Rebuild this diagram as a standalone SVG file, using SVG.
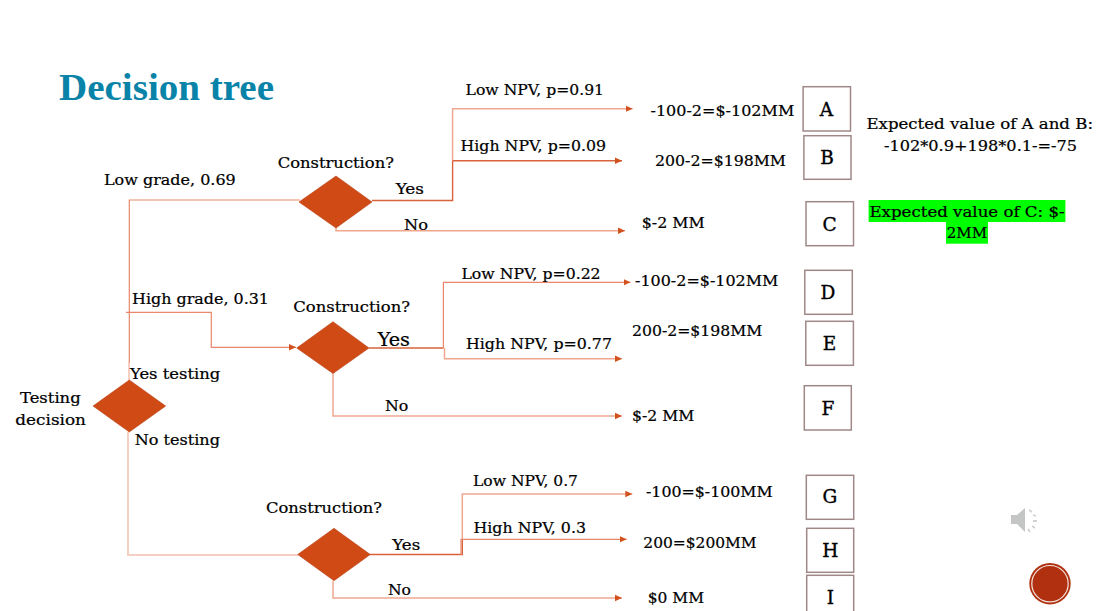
<svg xmlns="http://www.w3.org/2000/svg" width="1096" height="611" viewBox="0 0 1096 611">
<style>
text{font-family:"DejaVu Serif","Liberation Serif",serif;font-size:15px;fill:#000;stroke:#000;stroke-width:.22px;transform:translateY(-.8px)}
.title{font-family:"Liberation Serif",serif;font-weight:bold;font-size:38px;fill:#0a83a8;stroke:none;transform:none}
.big{font-size:18px}
.letter{font-size:18.500px;text-anchor:middle;stroke-width:.35px}
.c{fill:none;stroke:#e8876a;stroke-width:1.2}
.d{fill:none;stroke:#d9623a;stroke-width:1.4}
.l{fill:none;stroke:#f5cfc2;stroke-width:2}
.m{fill:none;stroke:#f1a78e;stroke-width:1.5}
.dia{fill:#d04a16;stroke:#b8431a;stroke-width:.6}
.box{fill:#fff;stroke:#a08888;stroke-width:1.5}
</style>
<defs>
<marker id="arrow" markerUnits="userSpaceOnUse" markerWidth="8" markerHeight="8" refX="7" refY="4" orient="auto"><path d="M0 .8L7 4L0 7.2Z" fill="#d2521f"/></marker>
</defs>
<rect width="1096" height="611" fill="#fff"/>
<text class="title" x="59" y="100" textLength="215" lengthAdjust="spacingAndGlyphs">Decision tree</text>

<g id="connectors">
<path class="c" d="M129.3 380V200H300"/>
<path class="l" d="M129 363V380"/>
<path class="c" d="M126 312.3H211.3V347.3H296" marker-end="url(#arrow)"/>
<path class="l" d="M128 432V555H298"/>
<path class="d" d="M372 200.500H452.600V160.700"/>
<path class="m" d="M452.600 160.700V108.700H632.600" marker-end="url(#arrow)"/>
<path class="d" d="M452.600 160.700H622" marker-end="url(#arrow)"/>
<path class="m" d="M336 228V230.700H625" marker-end="url(#arrow)"/>
<path class="d" d="M369 348H443.400"/>
<path class="c" d="M443.400 348V282.300H630.500" marker-end="url(#arrow)"/>
<path class="m" d="M444.500 348V358.700H622" marker-end="url(#arrow)"/>
<path class="m" d="M333 373V416H622" marker-end="url(#arrow)"/>
<path class="d" d="M370 554.500H462.300V539.300"/>
<path class="m" d="M462.300 539.300V494H632.300" marker-end="url(#arrow)"/>
<path class="c" d="M461 555V539.300H626.700" marker-end="url(#arrow)"/>
<path class="m" d="M333 581V598H622" marker-end="url(#arrow)"/>
</g>

<g id="node-construction-1">
<polygon class="dia" points="299,202 336,176 372,202 336,228"/>
<text x="277.700" y="168.700" textLength="116.300" lengthAdjust="spacingAndGlyphs">Construction?</text>
</g>
<g id="node-construction-2">
<polygon class="dia" points="296.700,348 333,321.700 369,348 333,373.500"/>
<text x="293.300" y="312.700" textLength="116.700" lengthAdjust="spacingAndGlyphs">Construction?</text>
</g>
<g id="node-construction-3">
<polygon class="dia" points="297.700,554.500 334,528.300 370.300,554.500 334,580.700"/>
<text x="266" y="513.700" textLength="116" lengthAdjust="spacingAndGlyphs">Construction?</text>
</g>
<g id="node-testing">
<polygon class="dia" points="93,406 129.300,380 165.700,406 129.300,432"/>
<text x="20" y="404" textLength="60.700" lengthAdjust="spacingAndGlyphs">Testing</text>
<text x="15.300" y="426" textLength="70.700" lengthAdjust="spacingAndGlyphs">decision</text>
</g>

<g id="edge-labels">
<text x="104" y="186" textLength="131.700" lengthAdjust="spacingAndGlyphs">Low grade, 0.69</text>
<text x="132" y="305" textLength="137" lengthAdjust="spacingAndGlyphs">High grade, 0.31</text>
<text x="130" y="380" textLength="90.300" lengthAdjust="spacingAndGlyphs">Yes testing</text>
<text x="134.700" y="446" textLength="85.300" lengthAdjust="spacingAndGlyphs">No testing</text>
<text x="395.700" y="194.700" textLength="28.300" lengthAdjust="spacingAndGlyphs">Yes</text>
<text x="404" y="230.700" textLength="24" lengthAdjust="spacingAndGlyphs">No</text>
<text class="big" x="377.700" y="346.700" textLength="32.300" lengthAdjust="spacingAndGlyphs">Yes</text>
<text x="385" y="412" textLength="23.300" lengthAdjust="spacingAndGlyphs">No</text>
<text x="392.300" y="550.700" textLength="28" lengthAdjust="spacingAndGlyphs">Yes</text>
<text x="388" y="596" textLength="23" lengthAdjust="spacingAndGlyphs">No</text>
<text x="465.600" y="96" textLength="138.400" lengthAdjust="spacingAndGlyphs">Low NPV, p=0.91</text>
<text x="460.600" y="152" textLength="145.400" lengthAdjust="spacingAndGlyphs">High NPV, p=0.09</text>
<text x="461.400" y="280" textLength="139.200" lengthAdjust="spacingAndGlyphs">Low NPV, p=0.22</text>
<text x="466" y="350" textLength="146" lengthAdjust="spacingAndGlyphs">High NPV, p=0.77</text>
<text x="473" y="487" textLength="105" lengthAdjust="spacingAndGlyphs">Low NPV, 0.7</text>
<text x="473.500" y="534" textLength="112.500" lengthAdjust="spacingAndGlyphs">High NPV, 0.3</text>
</g>

<g id="outcomes">
<text x="650.500" y="116.700" textLength="143.800" lengthAdjust="spacingAndGlyphs">-100-2=$-102MM</text>
<text x="655" y="167" textLength="131" lengthAdjust="spacingAndGlyphs">200-2=$198MM</text>
<text x="641.700" y="229" textLength="63.100" lengthAdjust="spacingAndGlyphs">$-2 MM</text>
<text x="635" y="286.700" textLength="143.400" lengthAdjust="spacingAndGlyphs">-100-2=$-102MM</text>
<text x="632" y="336.700" textLength="130.400" lengthAdjust="spacingAndGlyphs">200-2=$198MM</text>
<text x="632" y="421.700" textLength="62.300" lengthAdjust="spacingAndGlyphs">$-2 MM</text>
<text x="646" y="498" textLength="126.700" lengthAdjust="spacingAndGlyphs">-100=$-100MM</text>
<text x="643.300" y="549" textLength="113.400" lengthAdjust="spacingAndGlyphs">200=$200MM</text>
<text x="647.700" y="603.700" textLength="56.300" lengthAdjust="spacingAndGlyphs">$0 MM</text>
</g>

<g id="node-A"><rect class="box" x="803.100" y="86.700" width="47.400" height="44.300"/><text class="letter" x="826.500" y="116.700">A</text></g>
<g id="node-B"><rect class="box" x="803.900" y="135.700" width="47.100" height="43.600"/><text class="letter" x="827" y="165">B</text></g>
<g id="node-C"><rect class="box" x="806" y="201.700" width="47.500" height="44"/><text class="letter" x="829.500" y="231.700">C</text></g>
<g id="node-D"><rect class="box" x="804.800" y="270.300" width="47.500" height="44"/><text class="letter" x="828" y="300">D</text></g>
<g id="node-E"><rect class="box" x="805.800" y="321.300" width="47.600" height="44"/><text class="letter" x="829.500" y="351">E</text></g>
<g id="node-F"><rect class="box" x="804.300" y="385.700" width="47" height="44.300"/><text class="letter" x="828" y="415.700">F</text></g>
<g id="node-G"><rect class="box" x="806.300" y="475.300" width="47.400" height="44"/><text class="letter" x="830" y="504.300">G</text></g>
<g id="node-H"><rect class="box" x="806.700" y="528.300" width="47" height="44"/><text class="letter" x="830.300" y="558">H</text></g>
<g id="node-I"><rect class="box" x="806.700" y="575.300" width="47" height="44"/><text class="letter" x="830.300" y="605">I</text></g>

<g id="notes">
<text x="866.500" y="130" textLength="226.500" lengthAdjust="spacingAndGlyphs">Expected value of A and B:</text>
<text x="884" y="151.700" textLength="193" lengthAdjust="spacingAndGlyphs">-102*0.9+198*0.1-=-75</text>
<rect x="868.600" y="200" width="196.800" height="22" fill="#00ff00"/>
<rect x="946" y="222" width="42" height="21.700" fill="#00ff00"/>
<text x="869.500" y="217.700" textLength="195.100" lengthAdjust="spacingAndGlyphs">Expected value of C: $-</text>
<text x="946.800" y="239.300" textLength="40.400" lengthAdjust="spacingAndGlyphs">2MM</text>
</g>

<g id="speaker">
<path d="M1011 515H1017L1025 508V532L1017 524H1011Z" fill="#c4c6c6"/>
<path d="M1029 510l3 2M1033 515l3 1M1033 521h4M1032 526l3 2M1028 529l2 3" stroke="#d0d2d2" stroke-width="1.800" fill="none"/>
</g>
<g id="badge">
<circle cx="1050" cy="583.700" r="20.700" fill="#b03010"/>
<circle cx="1050" cy="583.700" r="18.200" fill="#b03010" stroke="#f3e3dc" stroke-width="1.200"/>
</g>
</svg>
